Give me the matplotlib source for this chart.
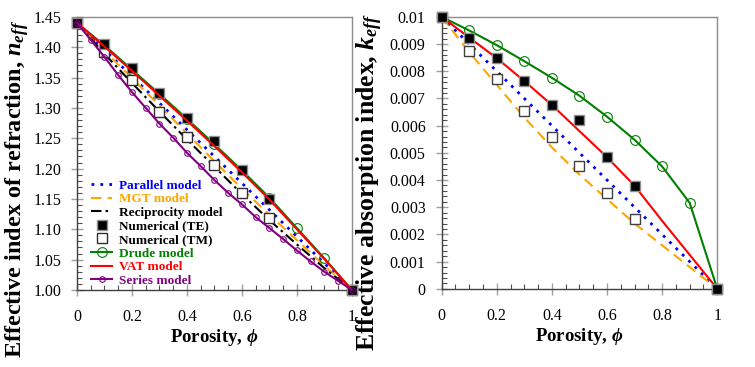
import numpy as np
import matplotlib
matplotlib.use("Agg")
import matplotlib.pyplot as plt
from matplotlib.ticker import MultipleLocator, FuncFormatter

plt.rcParams['font.family'] = ['Liberation Serif', 'DejaVu Serif']
plt.rcParams['mathtext.fontset'] = 'custom'
plt.rcParams['mathtext.it'] = 'Liberation Serif:italic:bold'
plt.rcParams['mathtext.rm'] = 'Liberation Serif:bold'
plt.rcParams['mathtext.bf'] = 'Liberation Serif:bold'

# ---- data ----
phi = [0.0, 0.1, 0.2, 0.3, 0.4, 0.5, 0.6, 0.7, 0.8, 0.9, 1.0]
phi_series = [0.0, 0.05, 0.1, 0.15, 0.2, 0.25, 0.3, 0.35, 0.4, 0.45, 0.5,
              0.55, 0.6, 0.65, 0.7, 0.75, 0.8, 0.85, 0.9, 0.95, 1.0]

n_parallel = [1.44, 1.396, 1.352, 1.308, 1.264, 1.220, 1.176, 1.132, 1.088, 1.044, 1.00]
n_mgt = [1.44, 1.394, 1.349, 1.304, 1.258, 1.212, 1.167, 1.124, 1.082, 1.040, 1.00]
n_recip = [1.44, 1.389, 1.341, 1.294, 1.248, 1.203, 1.158, 1.115, 1.075, 1.036, 1.00]
n_te = [1.44, 1.406, 1.366, 1.325, 1.284, 1.245, 1.198, 1.150, np.nan, np.nan, 1.00]
n_tm = [1.44, 1.392, 1.346, 1.293, 1.252, 1.206, 1.160, 1.119, np.nan, np.nan, 1.00]
n_drude = [1.44, 1.403, 1.363, 1.323, 1.282, 1.240, 1.197, 1.152, 1.102, 1.052, 1.00]
n_vat = [1.44, 1.401, 1.361, 1.320, 1.279, 1.237, 1.194, 1.149, 1.100, 1.051, 1.00]
n_series = [1.44, 1.412, 1.384, 1.354, 1.326, 1.300, 1.274, 1.251, 1.226, 1.204, 1.181,
            1.160, 1.141, 1.120, 1.102, 1.084, 1.065, 1.047, 1.030, 1.015, 1.00]

k_parallel = [0.010, 0.009, 0.008, 0.007, 0.006, 0.005, 0.004, 0.003, 0.002, 0.001, 0.0]
k_mgt = [0.010, 0.0087, 0.0075, 0.0063, 0.0052, 0.0042, 0.0033, 0.0024, 0.0016, 0.0008, 0.0]
k_te = [0.010, 0.00924, 0.00848, 0.00764, 0.00676, 0.00621, 0.00484, 0.00379, np.nan, np.nan, 0.0]
k_tm = [0.010, 0.00875, 0.00772, 0.00653, 0.00558, 0.00453, 0.00353, 0.00258, np.nan, np.nan, 0.0]
k_drude = [0.010, 0.0095, 0.00896, 0.00837, 0.00776, 0.0071, 0.00633, 0.00548, 0.0045, 0.00316, 0.0]
k_vat = [0.010, 0.00924, 0.00848, 0.00764, 0.00676, 0.0058, 0.00484, 0.00379, 0.0025, 0.00125, 0.0]

labels = ['Parallel model', 'MGT model', 'Reciprocity model', 'Numerical (TE)',
          'Numerical (TM)', 'Drude model', 'VAT model', 'Series model']

C_BLUE = '#0000FF'
C_ORANGE = '#FFA500'
C_GREEN = '#008000'
C_RED = '#FF0000'
C_PURPLE = '#800080'

fig = plt.figure(figsize=(7.55, 3.67), dpi=100)
ax1 = fig.add_axes([0.102, 0.210, 0.364, 0.744])
ax2 = fig.add_axes([0.585, 0.213, 0.365, 0.741])

LW = 1.5

def style_axes(ax):
    for s in ['top', 'right']:
        ax.spines[s].set_color('#8c8c8c')
        ax.spines[s].set_linewidth(1.0)
    for s in ['left', 'bottom']:
        ax.spines[s].set_color('#404040')
        ax.spines[s].set_linewidth(1.0)
    ax.set_xlim(0, 1)
    ax.xaxis.set_major_locator(MultipleLocator(0.2))
    ax.xaxis.set_minor_locator(MultipleLocator(0.05))
    ax.xaxis.set_major_formatter(FuncFormatter(lambda v, p: '%g' % round(v, 2)))
    ax.tick_params(which='major', direction='inout', length=8, width=1.0,
                   color='#a0a0a0', labelsize=11.5, pad=10)
    ax.tick_params(which='minor', direction='in', length=3.5, width=0.8, color='#505050')
    ax.tick_params(axis='y', which='major', pad=7.5)
    ax.tick_params(top=False, right=False, which='both')
    ax.set_xlabel('Porosity, $\\phi$', fontsize=13.5, fontweight='bold', labelpad=1)

# ---------- left panel ----------
ax1.plot(phi, n_parallel, linestyle=(0, (1, 2.2)), color=C_BLUE, lw=2, label=labels[0])
ax1.plot(phi, n_mgt, linestyle=(0, (5, 3)), color=C_ORANGE, lw=1.5, label=labels[1])
ax1.plot(phi, n_recip, linestyle=(0, (5, 2, 1.2, 2)), color='black', lw=1.5, label=labels[2])
ax1.plot(phi, n_te, 's', color='black', mec='#909090', ms=7, mew=1, label=labels[3],
         clip_on=False, zorder=4)
ax1.plot(phi, n_tm, 's', mfc='white', mec='#303030', ms=7, mew=1, label=labels[4],
         clip_on=False, zorder=3)
ax1.plot(phi, n_drude, '-o', color=C_GREEN, mfc='none', ms=7, mew=0.8, lw=LW,
         label=labels[5], clip_on=False, zorder=2)
ax1.plot(phi, n_vat, '-', color=C_RED, lw=LW, label=labels[6], zorder=5)
ax1.plot(phi_series, n_series, '-o', color=C_PURPLE, mfc='none', ms=4, mew=0.8, lw=LW,
         label=labels[7], clip_on=False, zorder=5)

style_axes(ax1)
ax1.set_ylim(1.0, 1.45)
ax1.yaxis.set_major_locator(MultipleLocator(0.05))
ax1.yaxis.set_minor_locator(MultipleLocator(0.01))
ax1.yaxis.set_major_formatter(FuncFormatter(lambda v, p: '%.2f' % v))
ax1.set_ylabel('Effective index of refraction, $n_{eff}$', fontsize=17.5,
               fontweight='bold')
ax1.yaxis.set_label_coords(-0.167, 0.37)

leg = ax1.legend(loc='upper left', bbox_to_anchor=(0.051, 0.404), frameon=False,
                 handlelength=1.6, handletextpad=0.5, labelspacing=0.1,
                 borderaxespad=0.0, borderpad=0.0,
                 prop={'weight': 'bold', 'size': 9.5})
leg_colors = [C_BLUE, C_ORANGE, 'black', 'black', 'black', C_GREEN, C_RED, C_PURPLE]
for t, c in zip(leg.get_texts(), leg_colors):
    t.set_color(c)

# ---------- right panel ----------
ax2.plot(phi, k_parallel, linestyle=(0, (1, 2.2)), color=C_BLUE, lw=2)
ax2.plot(phi, k_mgt, linestyle=(0, (5, 3)), color=C_ORANGE, lw=1.5)
ax2.plot(phi, k_drude, '-o', color=C_GREEN, mfc='none', ms=7, mew=0.8, lw=LW,
         clip_on=False, zorder=2)
ax2.plot(phi, k_vat, '-', color=C_RED, lw=LW, zorder=3)
ax2.plot(phi, k_tm, 's', mfc='white', mec='#404040', ms=7, mew=1, clip_on=False, zorder=4)
ax2.plot(phi, k_te, 's', color='black', mec='#909090', ms=7, mew=1, clip_on=False, zorder=5)

style_axes(ax2)
ax2.set_ylim(0, 0.01)
ax2.yaxis.set_major_locator(MultipleLocator(0.001))
ax2.yaxis.set_minor_locator(MultipleLocator(0.0002))
ax2.yaxis.set_major_formatter(FuncFormatter(lambda v, p: '%g' % round(v, 4)))
ax2.set_ylabel('Effective absorption index, $k_{eff}$', fontsize=18.5,
               fontweight='bold')
ax2.yaxis.set_label_coords(-0.207, 0.393)

fig.savefig('out.png', dpi=100)
